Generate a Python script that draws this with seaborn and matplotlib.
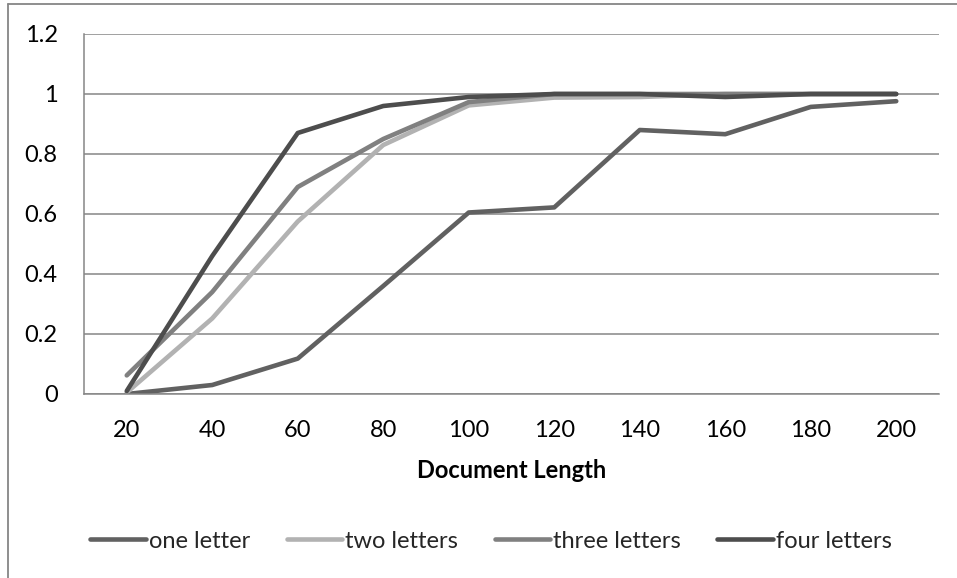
import matplotlib
matplotlib.use("Agg")
import matplotlib.pyplot as plt
import matplotlib.lines as mlines
import seaborn as sns
import pandas as pd
import numpy as np

categories = [20, 40, 60, 80, 100, 120, 140, 160, 180, 200]
one_letter = [0.0, 0.03, 0.118, 0.36, 0.605, 0.622, 0.88, 0.866, 0.957, 0.976]
two_letters = [0.005, 0.252, 0.575, 0.83, 0.962, 0.988, 0.99, 1.0, 1.0, 1.0]
three_letters = [0.062, 0.34, 0.69, 0.85, 0.973, 1.0, 1.0, 1.0, 1.0, 1.0]
four_letters = [0.01, 0.46, 0.87, 0.96, 0.99, 1.0, 1.0, 0.99, 1.0, 1.0]
series_names = ["one letter", "two letters", "three letters", "four letters"]
series_values = [one_letter, two_letters, three_letters, four_letters]
colors = ["#616161", "#b2b2b2", "#808080", "#4d4d4d"]
y_ticks = [0, 0.2, 0.4, 0.6, 0.8, 1.0, 1.2]
y_tick_labels = ["0", "0.2", "0.4", "0.6", "0.8", "1", "1.2"]

rows = []
for name, vals in zip(series_names, series_values):
    for i, (c, v) in enumerate(zip(categories, vals)):
        rows.append({"pos": i, "length": c, "value": v, "series": name})
df = pd.DataFrame(rows)

sns.set_theme(style="white")
plt.rcParams["font.family"] = ["Lato", "DejaVu Sans"]

W, H = 957, 578
FS = 17
fig = plt.figure(figsize=(W / 100, H / 100), dpi=100)
ax = fig.add_axes([84 / W, 1 - 394 / H, (939 - 84) / W, (394 - 34) / H])

grid_c = "#868686"
sns.lineplot(data=df, x="pos", y="value", hue="series", hue_order=series_names,
             palette=colors, linewidth=3.3, ax=ax, legend=False,
             solid_capstyle="round", solid_joinstyle="round")

ax.set_xlim(-0.5, len(categories) - 0.5)
ax.set_ylim(0, 1.2)
ax.set_yticks(y_ticks)
ax.set_yticklabels(y_tick_labels)
ax.yaxis.grid(True, color=grid_c, linewidth=1.1)
ax.set_axisbelow(True)

ax.set_xticks(np.arange(-0.5, len(categories), 1.0))
ax.set_xticklabels([])
ax.set_xticks(np.arange(len(categories)), minor=True)
ax.set_xticklabels([str(c) for c in categories], minor=True)
ax.tick_params(axis="x", which="major", length=7, width=1.1, color=grid_c, direction="out")
ax.tick_params(axis="x", which="minor", length=0, pad=18.6, labelsize=FS, labelcolor="black")
ax.tick_params(axis="y", length=8, width=1.1, color=grid_c, direction="out", pad=11,
               labelsize=FS, labelcolor="black")
for s in ["top", "right"]:
    ax.spines[s].set_visible(False)
for s in ["left", "bottom"]:
    ax.spines[s].set_color(grid_c)
    ax.spines[s].set_linewidth(1.1)

ax.set_xlabel("Document Length", fontsize=FS, fontweight="bold", color="black", labelpad=13)
ax.set_ylabel("")

handles = [mlines.Line2D([], [], color=c, linewidth=3.3, solid_capstyle="round") for c in colors]
fig.legend(handles, series_names, loc="center", bbox_to_anchor=(491 / W, 1 - 541 / H),
           ncol=4, frameon=False, fontsize=FS, handlelength=2.35, handletextpad=0.13,
           columnspacing=1.55)

# outer chart border (top and left visible)
fig.add_artist(mlines.Line2D([8 / W, 8 / W], [1 - 4 / H, 0], transform=fig.transFigure,
                             color=grid_c, linewidth=1.3))
fig.add_artist(mlines.Line2D([8 / W, 1], [1 - 4 / H, 1 - 4 / H], transform=fig.transFigure,
                             color=grid_c, linewidth=1.3))

fig.savefig("out.png", dpi=100)
